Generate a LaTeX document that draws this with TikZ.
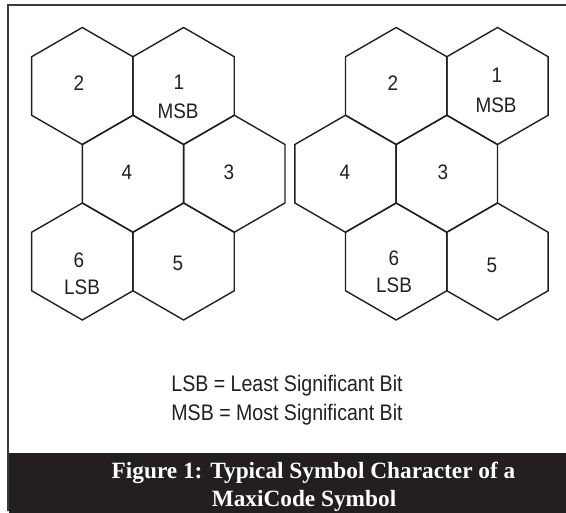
\documentclass[tikz,border=0pt]{standalone}
\usepackage{fontspec}
\setmainfont{Liberation Serif}
\newfontfamily\hexfont[FakeStretch=0.9]{Liberation Sans}
\newfontfamily\legfont[FakeStretch=0.87]{Liberation Sans}
\usetikzlibrary{calc}
\definecolor{framegray}{HTML}{3A3A3A}
\definecolor{capbg}{HTML}{231F20}
\definecolor{inkgray}{HTML}{231F20}
\begin{document}
\begin{tikzpicture}[x=1pt,y=-1pt,
  hexline/.style={draw=inkgray, line width=1.4pt, line join=miter},
  frameline/.style={draw=framegray, line width=2pt},
  hexlabel/.style={inner sep=0pt, anchor=base, text=inkgray, font=\hexfont\fontsize{21}{24}\selectfont},
  legendtext/.style={inner sep=0pt, anchor=base, text=inkgray, font=\legfont\fontsize{22.5}{26}\selectfont},
  captiontext/.style={inner sep=0pt, anchor=base, text=white, font=\fontsize{23.3}{27}\selectfont\bfseries}]
\useasboundingbox (0,0) rectangle (566,513);
% frame and caption bar
\fill[capbg] (9,453) rectangle (566,513);
\draw[frameline] (566,5) -- (8,5) -- (8,511);
% hexagon cells
\foreach \n/\cx/\cy in {La/82.3/86, Lb/183.6/86, Lc/133/173.75, Ld/234.3/173.75, Le/82.3/261.5, Lf/183.6/261.5,
                        Ra/396.2/86, Rb/497.5/86, Rc/345.5/173.75, Rd/446.8/173.75, Re/396.2/261.5, Rf/497.5/261.5}{
  \coordinate (\n) at (\cx,\cy);
  \draw[hexline, shift={(\n)}] (30:58.5) -- (90:58.5) -- (150:58.5) -- (210:58.5) -- (270:58.5) -- (330:58.5) -- cycle;
}
% left symbol labels
\node[hexlabel] (l2) at (79,90.5) {2};
\node[hexlabel] (l1) at (179,89.5) {1};
\node[hexlabel] (lmsb) at (178,119) {MSB};
\node[hexlabel] (l4) at (127,179.5) {4};
\node[hexlabel] (l3) at (229,179.5) {3};
\node[hexlabel] (l6) at (79,267.5) {6};
\node[hexlabel] (llsb) at (82,294.5) {LSB};
\node[hexlabel] (l5) at (178,270.5) {5};
% right symbol labels
\node[hexlabel] (r2) at (393,90.5) {2};
\node[hexlabel] (r1) at (497,82.5) {1};
\node[hexlabel] (rmsb) at (496,112.5) {MSB};
\node[hexlabel] (r4) at (345,179.5) {4};
\node[hexlabel] (r3) at (443,179.5) {3};
\node[hexlabel] (r6) at (394,265.5) {6};
\node[hexlabel] (rlsb) at (394,292.5) {LSB};
\node[hexlabel] (r5) at (492,272.5) {5};
% legend
\node[legendtext] (leg1) at (287,391.5) {LSB = Least Significant Bit};
\node[legendtext] (leg2) at (287,420.5) {MSB = Most Significant Bit};
% caption
\node[captiontext] (cap1) at (313.5,479) {Figure 1: Typical Symbol Character of a};
\node[captiontext] (cap2) at (304,506.5) {MaxiCode Symbol};
\end{tikzpicture}
\end{document}
